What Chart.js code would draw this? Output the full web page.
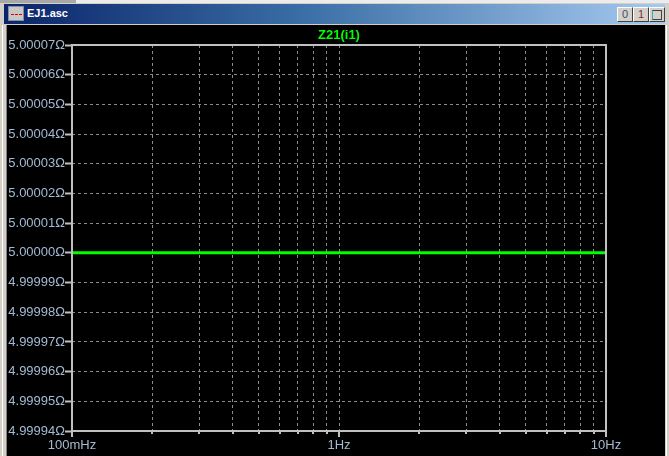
<!DOCTYPE html>
<html>
<head>
<meta charset="utf-8">
<script src="https://cdn.jsdelivr.net/npm/chart.js@4.4.1/dist/chart.umd.min.js"></script>
<style>
  html, body { margin: 0; padding: 0; background: #d4d0c8; width: 669px; height: 456px; overflow: hidden; }
  #win { position: absolute; left: 0; top: 0; width: 669px; height: 456px; background: #d4d0c8; }
  #topstrip { position: absolute; left: 0; top: 0; width: 669px; height: 3px; background: #ececec; }
  #topstrip2 { position: absolute; left: 0; top: 0; width: 76px; height: 3px; background: #a8a8a8; }
  #titlebar { position: absolute; left: 4px; top: 4px; width: 661px; height: 20px;
    background: linear-gradient(to right, #0a246a 0%, #3a6ea5 45%, #a6caf0 100%); }
  #icon { position: absolute; left: 4px; top: 2px; width: 16px; height: 15px; background: #c8c8c8; border: 1px solid #8090a0; box-sizing: border-box; }
  #icon::after { content: ""; position: absolute; left: 2px; top: 7px; width: 11px; height: 0; border-top: 1px dashed #e00000; }
  #wtitle { position: absolute; left: 23px; top: 3px; color: #ffffff; font: bold 11px "Liberation Sans", Arial, sans-serif; }
  .btn { position: absolute; top: 3px; width: 14px; height: 13px; background: #d4d0c8;
    border-top: 1px solid #ffffff; border-left: 1px solid #ffffff; border-right: 1px solid #404040; border-bottom: 1px solid #404040;
    font: 11px "Liberation Sans", Arial, sans-serif; text-align: center; line-height: 13px; box-sizing: content-box; }
  #content { position: absolute; left: 7px; top: 25px; width: 658px; height: 431px; background: #000000; }
  #leftb { position: absolute; left: 2px; top: 25px; width: 1px; height: 431px; background: #ffffff; }
  #leftb2 { position: absolute; left: 6px; top: 25px; width: 1px; height: 431px; background: #808080; }
  #rightb { position: absolute; left: 666px; top: 25px; width: 1px; height: 431px; background: #ffffff; }
  canvas { position: absolute; left: 0; top: 0; }
</style>
</head>
<body>
<div id="win">
  <div id="topstrip"></div>
  <div id="topstrip2"></div>
  <div id="titlebar">
    <div id="icon"></div>
    <div id="wtitle">EJ1.asc</div>
    <div class="btn" style="left:613px;color:#3a4a80;">0</div>
    <div class="btn" style="left:629px;color:#803030;">1</div>
    <div class="btn" style="left:645px;"><span style="display:inline-block;width:8px;height:8px;border:1px solid #404040;border-left:1px solid #30b0c0;margin-top:2px;"></span></div>
  </div>
  <div id="content"></div>
  <div id="leftb"></div>
  <div id="leftb2"></div>
  <div id="rightb"></div>
</div>
<canvas id="c" width="669" height="456"></canvas>
<script>
// ---- data ----
const traceName = "Z21(i1)";
const freqHz = [0.1, 0.2, 0.5, 1, 2, 5, 10];
const z21Ohm = [5.00000, 5.00000, 5.00000, 5.00000, 5.00000, 5.00000, 5.00000];
const yTickValues = [4.99994, 4.99995, 4.99996, 4.99997, 4.99998, 4.99999, 5.00000,
                     5.00001, 5.00002, 5.00003, 5.00004, 5.00005, 5.00006, 5.00007];
const yTickLabels = ["4.99994Ω", "4.99995Ω", "4.99996Ω", "4.99997Ω", "4.99998Ω", "4.99999Ω", "5.00000Ω",
                     "5.00001Ω", "5.00002Ω", "5.00003Ω", "5.00004Ω", "5.00005Ω", "5.00006Ω", "5.00007Ω"];
const xTickValues = [0.1, 0.2, 0.3, 0.4, 0.5, 0.6, 0.7, 0.8, 0.9, 1, 2, 3, 4, 5, 6, 7, 8, 9, 10];
const xMajorValues = [0.1, 1, 10];
const xMajorLabels = ["100mHz", "1Hz", "10Hz"];

const FRAME = '#c0c0c0';
const GRID = '#8c8c8c';
const LABEL = '#a4bad2';
const FONT = '"Liberation Sans", Arial, sans-serif';

const framePlugin = {
  id: 'frame',
  afterDraw(chart) {
    const ctx = chart.ctx, a = chart.chartArea;
    const xs = chart.scales.x;
    ctx.save();
    ctx.strokeStyle = FRAME;
    ctx.lineWidth = 2;
    ctx.strokeRect(a.left, a.top, a.right - a.left, a.bottom - a.top);
    xTickValues.forEach(v => {
      const px = Math.round(xs.getPixelForValue(v));
      const major = xMajorValues.includes(v);
      ctx.beginPath();
      ctx.moveTo(px, a.bottom);
      ctx.lineTo(px, a.bottom + (major ? 6 : 3));
      ctx.stroke();
    });
    // trace title centred over the plot area
    ctx.fillStyle = '#00ff00';
    ctx.font = 'bold 13px ' + FONT;
    ctx.textAlign = 'center';
    ctx.textBaseline = 'middle';
    ctx.fillText(traceName, (a.left + a.right) / 2, 35);
    ctx.restore();
  }
};

new Chart(document.getElementById('c'), {
  type: 'line',
  data: {
    datasets: [{
      label: traceName,
      data: freqHz.map((f, i) => ({ x: f, y: z21Ohm[i] })),
      borderColor: '#00ff00',
      borderWidth: 3,
      pointRadius: 0,
      tension: 0,
      fill: false
    }]
  },
  options: {
    responsive: false,
    animation: false,
    devicePixelRatio: 1,
    layout: { padding: { left: 0, top: 45, right: 63, bottom: 0 } },
    plugins: {
      legend: { display: false },
      tooltip: { enabled: false },
      title: { display: false }
    },
    scales: {
      x: {
        type: 'logarithmic',
        min: 0.1,
        max: 10,
        afterBuildTicks(scale) { scale.ticks = xTickValues.map(v => ({ value: v })); },
        afterFit(scale) { scale.height = 25; },
        border: { display: false, dash: [3, 3] },
        grid: { color: GRID, lineWidth: 1, drawTicks: false },
        ticks: {
          autoSkip: false,
          maxRotation: 0,
          padding: 7,
          color: LABEL,
          font: { family: FONT, size: 13 },
          callback(value) {
            const i = xMajorValues.findIndex(m => Math.abs(m - value) < 1e-9);
            return i >= 0 ? xMajorLabels[i] : '';
          }
        }
      },
      y: {
        type: 'linear',
        min: yTickValues[0],
        max: yTickValues[yTickValues.length - 1],
        afterBuildTicks(scale) { scale.ticks = yTickValues.map(v => ({ value: v })); },
        afterFit(scale) { scale.width = 72; },
        border: { display: false, dash: [3, 3] },
        grid: { color: GRID, lineWidth: 1, drawTicks: true, tickLength: 7, tickColor: FRAME, tickWidth: 2, tickBorderDash: [] },
        ticks: {
          autoSkip: false,
          padding: 0,
          color: LABEL,
          font: { family: FONT, size: 13 },
          callback(value, index) { return yTickLabels[index]; }
        }
      }
    }
  },
  plugins: [framePlugin]
});
</script>
</body>
</html>
